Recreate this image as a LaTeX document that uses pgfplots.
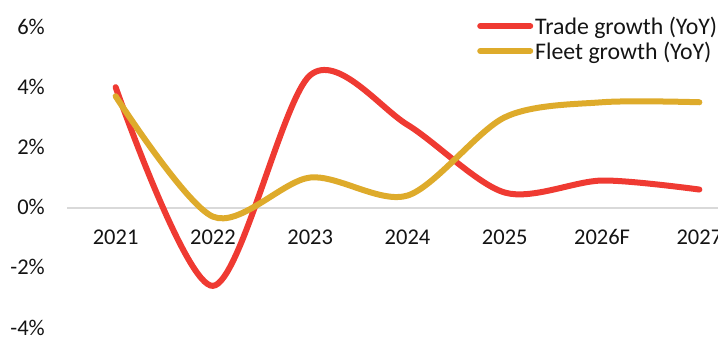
\documentclass[border=0pt]{standalone}
\usepackage{fontspec}
\setmainfont{Carlito}
\usepackage{pgfplots}
\pgfplotsset{compat=1.18}
\definecolor{tradered}{RGB}{239,58,50}
\definecolor{fleetgold}{RGB}{222,171,43}
\definecolor{zerogray}{RGB}{217,217,217}
\definecolor{txt}{RGB}{20,20,20}
\begin{document}
\begin{tikzpicture}[x=1pt,y=1pt]
\begin{axis}[
  at={(67pt,-328pt)}, anchor=south west,
  scale only axis, width=681pt, height=301pt,
  xmin=-0.5, xmax=6.5, ymin=-4, ymax=6,
  axis line style={draw=none},
  major tick length=0pt, tick style={draw=none},
  xtick={0,1,2,3,4,5,6},
  xticklabels={2021,2022,2023,2024,2025,2026F,2027},
  ytick={-4,-2,0,2,4,6},
  yticklabels={-4\%,-2\%,0\%,2\%,4\%,6\%},
  xticklabel style={anchor=base, yshift=84pt, inner sep=0pt, font=\fontsize{22.5}{27}\selectfont, text=txt},
  yticklabel style={anchor=base east, xshift=-22pt, yshift=-7pt, inner sep=0pt, font=\fontsize{22.5}{27}\selectfont, text=txt},
  clip=false,
  legend cell align=left,
  legend style={draw=none, fill=none, at={(0.6065,1.0355)}, anchor=north west, xshift=-6pt,
    font=\fontsize{23.8}{28}\selectfont, text=txt,
    nodes={inner sep=0pt, text height=16pt, text depth=5pt},
    row sep=4pt, column sep=2pt},
  legend image code/.code={\draw[#1, line cap=round] (0pt,3pt) -- (50pt,3pt);},
]
\draw[zerogray, line width=2pt] (axis cs:-0.5,0) -- (axis cs:6.5,0);
\addplot[tradered, line width=6pt, line cap=round, smooth, tension=0.5] coordinates {
(0,4.0) (1,-2.6) (2,4.4) (3,2.75) (4,0.5) (5,0.9) (6,0.6)};
\addlegendentry{Trade growth (YoY)}
\addplot[fleetgold, line width=6pt, line cap=round, smooth, tension=0.5] coordinates {
(0,3.7) (1,-0.3) (2,1.0) (3,0.4) (4,3.0) (5,3.5) (6,3.5)};
\addlegendentry{Fleet growth (YoY)}
\end{axis}
\pgfresetboundingbox
\useasboundingbox (0,0) rectangle (718,-337);
\end{tikzpicture}
\end{document}
